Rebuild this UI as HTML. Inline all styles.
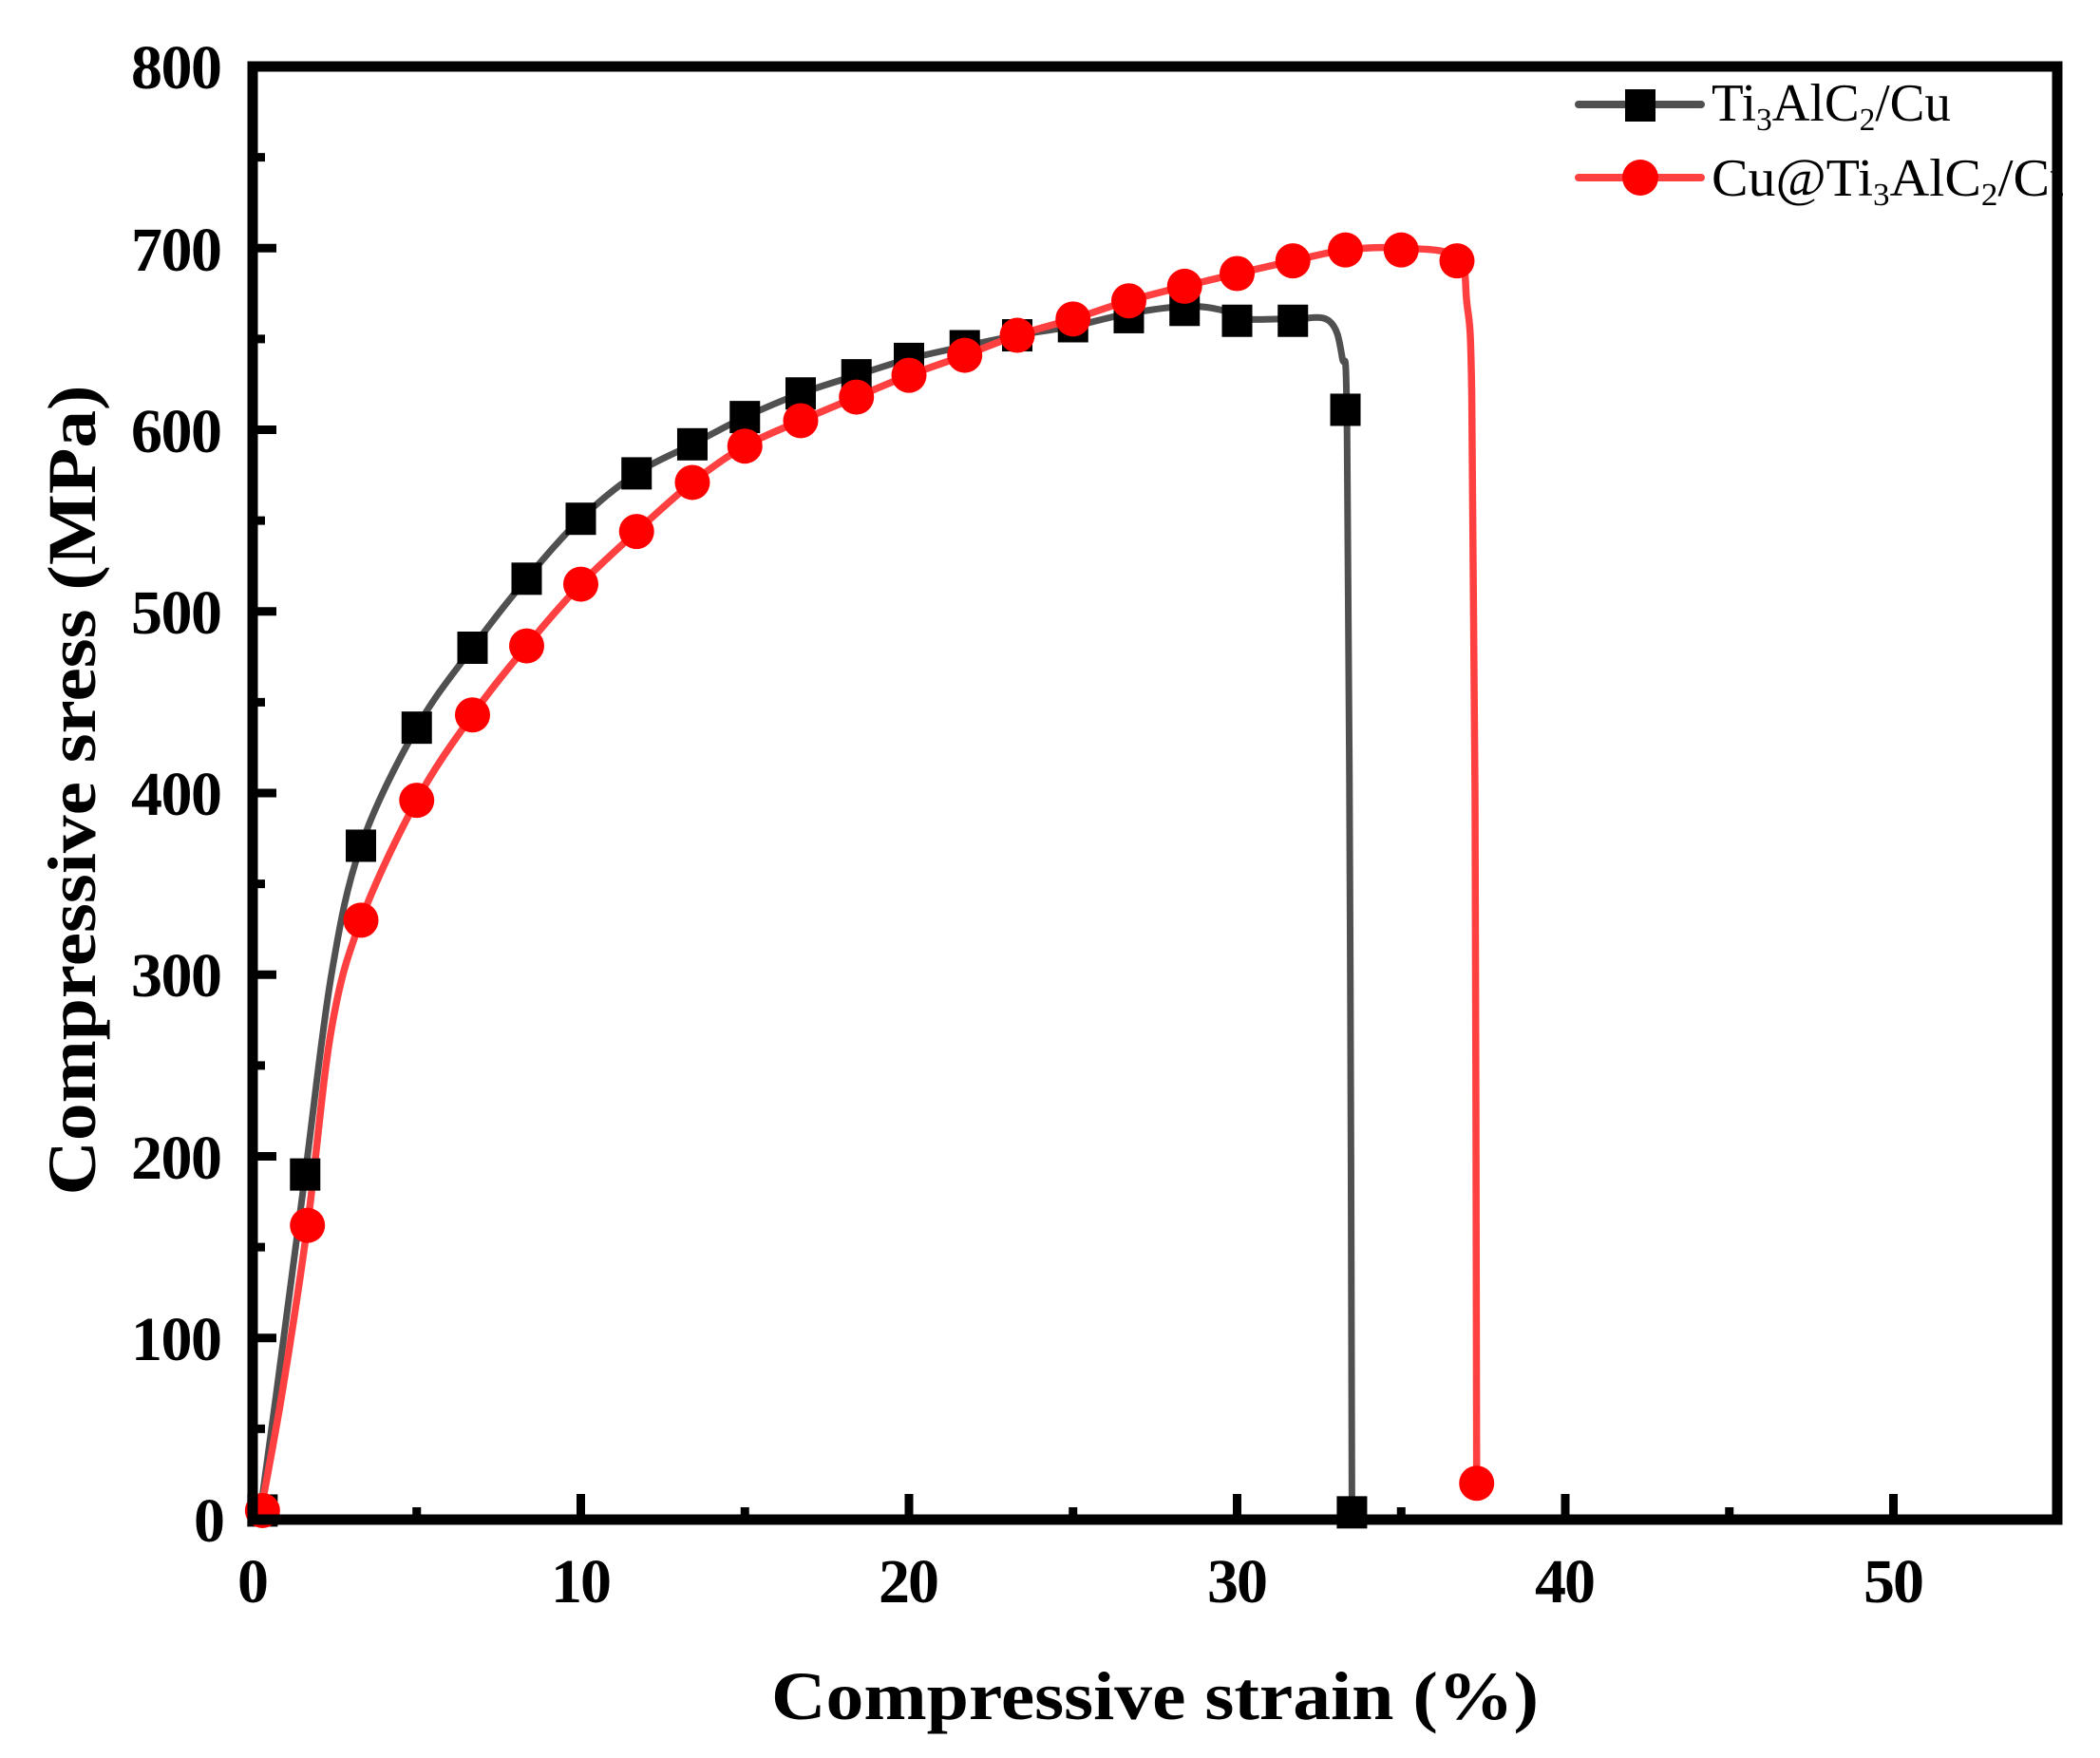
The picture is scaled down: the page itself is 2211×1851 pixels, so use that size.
<!DOCTYPE html>
<html><head><meta charset="utf-8"><style>
html,body{margin:0;padding:0;background:#fff}
svg{display:block}
text{font-family:"Liberation Serif",serif}
</style></head><body>
<svg id="s" width="2211" height="1851" viewBox="0 0 2211 1851" xmlns="http://www.w3.org/2000/svg">
<rect width="2211" height="1851" fill="#fff"/>
<g id="ticks" stroke="#000" stroke-width="9"></g>
<g id="plot"></g>
<rect x="2172" y="60" width="39" height="200" fill="#fff"/>
<line x1="1662" y1="110" x2="1791" y2="110" stroke="#505050" stroke-width="8" stroke-linecap="round"/>
<rect x="1711" y="94" width="32" height="34" fill="#000"/>
<text x="1802" y="127" font-size="56" textLength="252" lengthAdjust="spacingAndGlyphs">Ti<tspan font-size="34" dy="10">3</tspan><tspan dy="-10">AlC</tspan><tspan font-size="34" dy="10">2</tspan><tspan dy="-10">/Cu</tspan></text>
<line x1="1662" y1="187" x2="1791" y2="187" stroke="#ff4040" stroke-width="8" stroke-linecap="round"/>
<circle cx="1727" cy="187" r="19" fill="#f00"/>
<text x="1802" y="206" font-size="56" textLength="385" lengthAdjust="spacingAndGlyphs">Cu@Ti<tspan font-size="34" dy="10">3</tspan><tspan dy="-10">AlC</tspan><tspan font-size="34" dy="10">2</tspan><tspan dy="-10">/Cu</tspan></text>
<rect x="2172" y="60" width="39" height="200" fill="#fff"/>
<rect x="266" y="70" width="1900" height="1530" fill="none" stroke="#000" stroke-width="11"/>
<g font-weight="bold" font-size="66" lengthAdjust="spacingAndGlyphs">
<text x="204" y="1623" textLength="32">0</text>
<text x="138" y="1432" textLength="96">100</text>
<text x="138" y="1241" textLength="96">200</text>
<text x="138" y="1049" textLength="96">300</text>
<text x="138" y="858" textLength="96">400</text>
<text x="138" y="667" textLength="96">500</text>
<text x="138" y="476" textLength="96">600</text>
<text x="138" y="285" textLength="96">700</text>
<text x="138" y="93" textLength="96">800</text>
<text x="250" y="1687" textLength="32">0</text>
<text x="580" y="1687" textLength="64">10</text>
<text x="925" y="1687" textLength="64">20</text>
<text x="1271" y="1687" textLength="64">30</text>
<text x="1616" y="1687" textLength="64">40</text>
<text x="1962" y="1687" textLength="64">50</text>
</g>
<text x="1216" y="1810" font-weight="bold" font-size="72" text-anchor="middle" textLength="808" lengthAdjust="spacingAndGlyphs">Compressive strain (%)</text>
<text transform="translate(100,832) rotate(-90)" font-weight="bold" font-size="72" text-anchor="middle" textLength="853" lengthAdjust="spacingAndGlyphs">Compressive sress (MPa)</text>
</svg>
<script>
var X=function(v){return 266+v*34.55},Y=function(v){return 1600-v*1.9125};
var NS="http://www.w3.org/2000/svg";
var tk=document.getElementById("ticks");
function ln(a,b,c,d){var l=document.createElementNS(NS,"line");l.setAttribute("x1",a);l.setAttribute("y1",b);l.setAttribute("x2",c);l.setAttribute("y2",d);tk.appendChild(l);}
for(var i=0;i<=16;i++){var y=Y(i*50);ln(266,y,266+(i%2?13:25),y);}
for(var i=0;i<=11;i++){var x=X(i*5);ln(x,1600,x,1600-(i%2?13:27));}
function path(pts){var d="M"+pts[0][0]+","+pts[0][1];for(var i=0;i<pts.length-1;i++){var p0=pts[Math.max(0,i-1)],p1=pts[i],p2=pts[i+1],p3=pts[Math.min(pts.length-1,i+2)];var c1x=p1[0]+(p2[0]-p0[0])/6,c1y=p1[1]+(p2[1]-p0[1])/6,c2x=p2[0]-(p3[0]-p1[0])/6,c2y=p2[1]-(p3[1]-p1[1])/6;d+=" C"+c1x+","+c1y+" "+c2x+","+c2y+" "+p2[0]+","+p2[1];}return d;}
function px(a){return a.map(function(p){return [X(p[0]),Y(p[1])];});}
var blk=[[0.3,5],[1.6,190],[3.3,371],[5,436],[6.7,480],[8.35,518],[10,551],[11.7,576],[13.4,592],[15,607],[16.7,620],[18.4,630],[20,639],[21.7,646],[23.3,652],[25,657],[26.7,662],[28.4,666],[30,660],[31.7,660],[33.3,611],[33.5,4]];
var blkLine=[[0.2,0],[0.8,80],[1.6,190],[2.4,300],[3.3,371],[5,436],[6.7,480],[8.35,518],[10,551],[11.7,576],[13.4,592],[15,607],[16.7,620],[18.4,630],[20,639],[21.7,646],[23.3,652],[25,657],[26.7,664],[28.4,668],[29.5,666],[30,661],[31.7,661],[32.8,660],[33.2,640],[33.35,600],[33.45,300],[33.5,4]];
var red=[[0.3,5],[1.67,162],[3.3,330],[5,396],[6.7,443],[8.35,481],[10,515],[11.7,544],[13.4,571],[15,591],[16.7,605],[18.4,618],[20,630],[21.7,641],[23.3,652],[25,661],[26.7,671],[28.4,679],[30,686],[31.7,693],[33.3,699],[35,699],[36.7,693],[37.3,20]];
var redLine=[[0.2,0],[0.9,70],[1.67,162],[2.4,270],[3.3,330],[5,396],[6.7,443],[8.35,481],[10,515],[11.7,544],[13.4,571],[15,591],[16.7,605],[18.4,618],[20,630],[21.7,641],[23.3,652],[25,661],[26.7,671],[28.4,679],[30,686],[31.7,693],[33.3,699],[35,700],[36.7,695],[37.0,670],[37.15,620],[37.25,400],[37.3,20]];
var g=document.getElementById("plot"),h="";
h+='<path d="'+path(px(blkLine))+'" fill="none" stroke="#505050" stroke-width="7"/>';
h+='<path d="'+path(px(redLine))+'" fill="none" stroke="#ff4040" stroke-width="7.5"/>';
blk.forEach(function(p){h+='<rect x="'+(X(p[0])-16)+'" y="'+(Y(p[1])-17)+'" width="32" height="34" fill="#000"/>';});
red.forEach(function(p){h+='<circle cx="'+X(p[0])+'" cy="'+Y(p[1])+'" r="18.5" fill="#f00"/>';});
g.innerHTML=h;
</script>
</body></html>
